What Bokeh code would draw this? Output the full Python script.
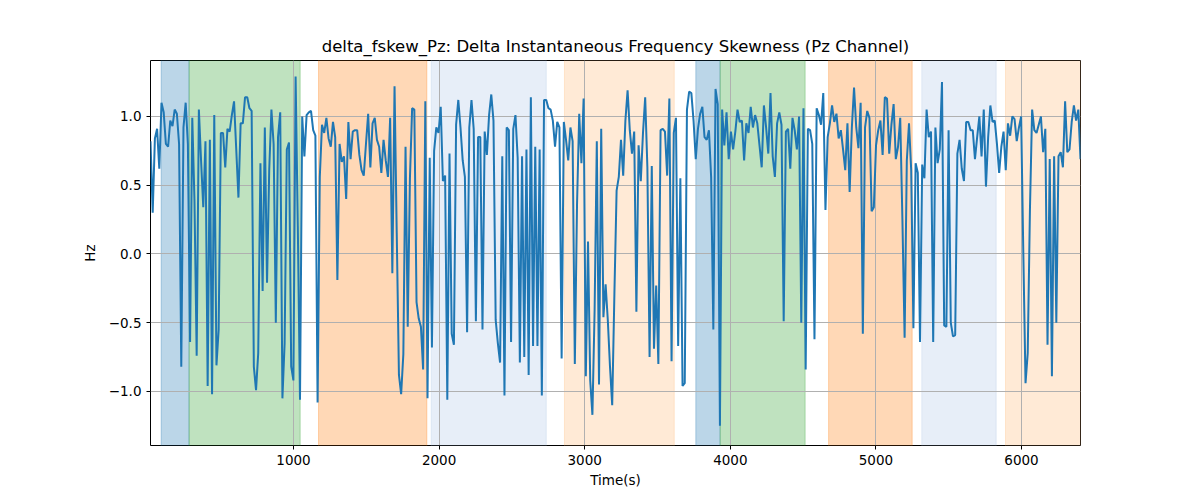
import numpy as np
from bokeh.plotting import figure
from bokeh.models import Range1d, FixedTicker, ColumnDataSource
from bokeh.embed import file_html
from bokeh.resources import INLINE

# ---- data ----
t_start = 18
t_end = 6405
hz_values = [
    0.82, 0.30, 0.84, 0.91, 0.62, 1.10, 1.03, 0.80, 0.78, 0.97,
    0.93, 1.05, 1.02, 0.80, -0.82, 0.92, 1.10, 0.80, -0.64, 0.99,
    0.39, -0.74, 1.05, 0.68, 0.34, 0.82, -0.96, 0.83, -1.02, 1.01,
    -0.81, -0.55, 0.88, 0.88, 0.63, 0.91, 0.89, 1.01, 1.11, 0.76,
    0.41, 0.95, 0.95, 1.14, 1.14, 1.06, 1.04, -0.82, -0.99, -0.72,
    0.66, -0.27, 0.92, -0.21, 0.61, 1.05, 0.80, -0.50, 0.85, 1.03,
    -1.05, -0.65, 0.76, 0.81, -0.82, -0.92, 1.29, 0.20, -1.06, 1.00,
    0.71, 1.01, 1.03, 1.04, 0.90, 0.86, -1.08, 0.56, 0.94, 0.88,
    0.99, 0.84, 0.78, 0.96, 0.85, -0.19, 0.80, 0.67, 0.71, 0.40,
    0.96, 0.69, 0.89, 0.90, 0.90, 0.72, 0.61, 0.57, 0.80, 1.02,
    0.63, 0.95, 0.99, 0.83, 0.78, 0.59, 0.83, 0.68, 0.56, 0.99,
    -0.14, 1.22, 0.15, -0.88, -1.02, -0.73, 0.78, -0.53, 0.55, 1.06,
    1.05, -0.35, -0.47, -0.53, -0.84, 1.11, -1.05, 0.70, -0.68, 0.75,
    0.92, 0.88, 1.07, 0.53, 0.57, -1.06, 0.73, -0.58, -0.66, 0.94,
    1.12, 0.92, 0.68, 0.56, -0.57, 0.92, 1.12, 0.91, -0.49, 0.85,
    0.85, -0.55, 0.89, 0.72, 1.01, 1.16, 0.97, -0.48, -0.65, -0.79,
    0.71, -1.03, 0.92, 0.90, -0.64, 0.91, 1.01, 0.70, -0.79, 0.71,
    -0.75, 0.76, -0.88, 1.14, -0.67, 0.78, -0.67, 0.76, -1.03, 1.12,
    1.12, 1.06, 1.05, 0.97, 0.78, 0.96, 0.92, -0.76, 0.96, 0.83,
    0.68, 0.92, 0.82, -0.80, 0.36, 1.02, 0.66, 1.13, -0.89, 0.09,
    -0.92, -1.17, -0.41, 0.82, -0.95, 0.91, -0.46, -0.22, -0.48, -0.82,
    -1.10, -0.29, 0.46, 0.56, 0.83, 0.57, 0.97, 1.19, 0.90, 0.73,
    0.89, -0.42, 0.79, 0.53, 0.88, 1.14, 0.63, -0.75, 0.64, -0.69,
    -0.23, -0.80, 0.90, 0.91, 0.89, 0.57, 1.13, -0.78, 0.88, 0.99,
    -0.67, 0.55, -0.96, -0.94, 1.05, 1.18, 1.17, 0.97, 0.69, 0.91,
    1.02, 1.07, 0.85, 0.83, 0.90, 0.56, -0.55, 1.20, 1.09, -1.25,
    1.05, 0.79, 1.03, 0.69, 0.89, 0.76, 0.89, 1.05, 0.96, 0.97,
    0.68, 0.95, 0.88, 1.07, 0.92, 1.01, 0.95, 0.79, 0.63, 1.08,
    0.92, 0.73, 1.17, 0.71, 0.56, 0.95, 1.03, 0.94, -0.49, 0.89,
    0.91, 0.62, 0.99, 0.90, 0.76, 1.00, -0.50, 1.06, -0.84, 0.91,
    0.90, 0.80, -0.62, 1.06, 1.01, 0.94, 1.17, 0.32, 0.85, 0.95,
    1.08, 0.96, 1.02, 0.84, 0.90, 0.76, 0.61, 0.95, 0.45, 0.92,
    1.21, 0.92, 0.77, 1.10, -0.58, 0.92, 1.04, 0.99, 0.31, 0.34,
    0.79, 0.90, 0.97, 0.72, 1.14, 1.13, 0.73, 0.94, 1.09, 0.69,
    0.78, 0.99, 0.25, -0.61, 0.68, 0.95, 0.61, -0.54, 0.66, 0.59,
    -0.64, 0.65, 0.55, 1.05, 0.85, 0.89, -0.64, 0.92, 0.66, 0.76,
    1.25, -0.52, -0.53, 0.90, -0.50, -0.60, -0.59, 0.73, 0.83, 0.62,
    0.53, 0.96, 0.96, 0.90, 0.90, 0.69, 0.85, 1.00, 0.71, 1.05,
    0.49, 0.85, 1.08, 0.96, 0.97, 0.80, 0.59, 0.78, 0.89, 0.61,
    0.95, 0.86, 1.00, 0.98, 0.82, 0.92, 1.00, 0.00, -0.94, -0.72,
    0.32, 1.05, 0.90, 0.88, 0.94, 1.00, 0.74, 0.91, -0.66, 0.69,
    -0.89, 0.71, -0.50, 0.71, 0.74, 0.63, 1.11, 0.74, 0.76, 0.96,
    1.08, 0.97, 1.05, 0.69,
]
time_s = np.linspace(t_start, t_end, len(hz_values))

span_start = [91, 283, 1172, 1946, 2861, 3763, 3930, 4675, 5315, 5890]
span_end = [283, 1046, 1916, 2736, 3615, 3930, 4514, 5249, 5826, 6405]
span_color = ["#1f77b4", "#2ca02c", "#ff7f0e", "#aec7e8", "#ffbb78",
              "#1f77b4", "#2ca02c", "#ff7f0e", "#aec7e8", "#ffbb78"]
span_alpha = [0.3, 0.3, 0.3, 0.3, 0.3, 0.3, 0.3, 0.3, 0.3, 0.3]

x_ticks = [1000, 2000, 3000, 4000, 5000, 6000]
y_ticks = [-1.0, -0.5, 0.0, 0.5, 1.0]
y_tick_labels = ["\u22121.0", "\u22120.5", "0.0", "0.5", "1.0"]

FONT = "DejaVu Sans"

p = figure(width=1195, height=495, output_backend="svg", toolbar_location=None,
           title="delta_fskew_Pz: Delta Instantaneous Frequency Skewness (Pz Channel)",
           x_range=Range1d(t_start, t_end), y_range=Range1d(-1.393, 1.407),
           min_border_left=150, min_border_right=115, min_border_top=60, min_border_bottom=50)

span_src = ColumnDataSource(dict(left=span_start, right=span_end,
                                 bottom=[-10] * len(span_start), top=[10] * len(span_start),
                                 color=span_color, alpha=span_alpha))
p.quad(left="left", right="right", bottom="bottom", top="top", source=span_src,
       fill_color="color", fill_alpha="alpha", line_color="color", line_alpha="alpha",
       line_width=1, level="image")

p.line(time_s, hz_values, line_color="#1f77b4", line_width=2)

p.title.text_font = FONT
p.title.text_font_size = "16.5px"
p.title.text_font_style = "normal"
p.title.align = "center"
p.title.text_color = "black"

p.xaxis.axis_label = "Time(s)"
p.yaxis.axis_label = "Hz"
p.xaxis.ticker = FixedTicker(ticks=x_ticks)
p.yaxis.ticker = FixedTicker(ticks=y_ticks)
p.yaxis.major_label_overrides = {v: s for v, s in zip(y_ticks, y_tick_labels)}

for ax in (p.xaxis, p.yaxis):
    ax.axis_label_text_font = FONT
    ax.axis_label_text_font_size = "13.5px"
    ax.axis_label_text_font_style = "normal"
    ax.axis_label_text_color = "black"
    ax.major_label_text_font = FONT
    ax.major_label_text_font_size = "13.5px"
    ax.major_label_text_color = "black"
    ax.major_tick_in = 0
    ax.major_tick_out = 4
    ax.minor_tick_line_color = None
    ax.axis_line_color = None
    ax.major_tick_line_color = "black"

p.xaxis.axis_label_standoff = 4
p.yaxis.axis_label_standoff = 8

p.grid.grid_line_color = "#b0b0b0"
p.grid.grid_line_width = 1
p.outline_line_color = "black"
p.outline_line_width = 1
p.outline_line_alpha = 1
p.background_fill_color = "white"
p.border_fill_color = "white"

open("out.html", "w").write(file_html(p, INLINE))
